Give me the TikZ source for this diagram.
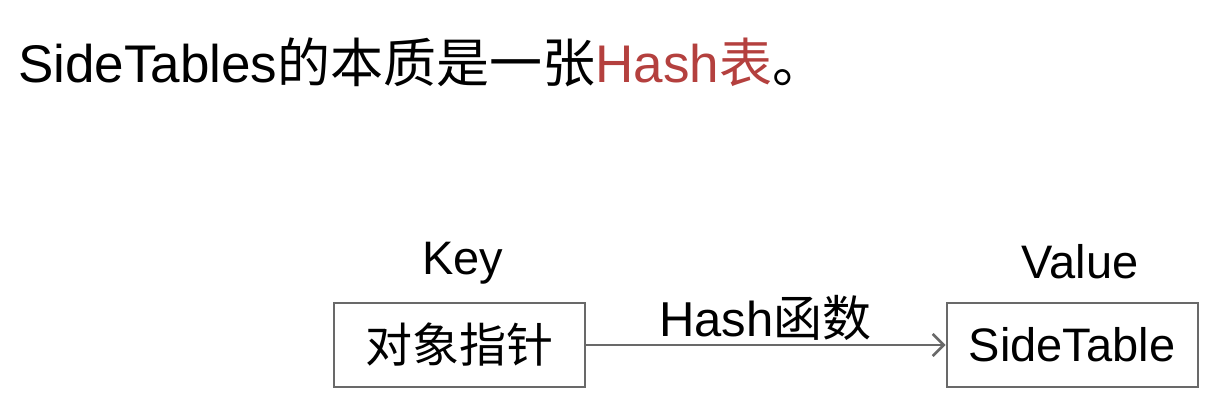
\documentclass[tikz,border=0pt]{standalone}
\usepackage{fontspec}
\setmainfont{Liberation Sans}
\newfontfamily\cjk{Noto Sans CJK SC}
\usetikzlibrary{arrows.meta}
\definecolor{hashred}{RGB}{180,64,62}
\definecolor{boxgray}{RGB}{105,105,105}
\tikzset{
  x=1pt, y=1pt,
  valbox/.style={draw=boxgray, line width=2pt, minimum width=251pt, minimum height=84pt, inner sep=0pt, font=\fontsize{47}{50}\selectfont},
  caption/.style={font=\fontsize{47}{50}\selectfont, inner sep=0pt},
  link/.style={draw=boxgray, line width=2pt, -{Straight Barb[length=11pt,width=22pt,line width=2.5pt]}}
}
\begin{document}
\begin{tikzpicture}
\useasboundingbox (0,0) rectangle (1226,416);
\node[anchor=base west, inner sep=0pt, font=\fontsize{53}{56}\selectfont] (title) at (18,334)
  {SideTables{\cjk 的本质是一张}\textcolor{hashred}{Hash{\cjk 表}}{\cjk 。}};
\node[valbox] (key) at (459,71) {\cjk 对象指针};
\node[valbox] (val) at (1072,71) {SideTable};
\node[caption] (keylbl) at (463,153) {Key};
\node[caption] (vallbl) at (1080,154) {Value};
\draw[link] (key.east) -- node[above=3pt, caption, font=\fontsize{49}{52}\selectfont] (hf) {Hash{\cjk 函数}} (val.west);
\end{tikzpicture}
\end{document}
